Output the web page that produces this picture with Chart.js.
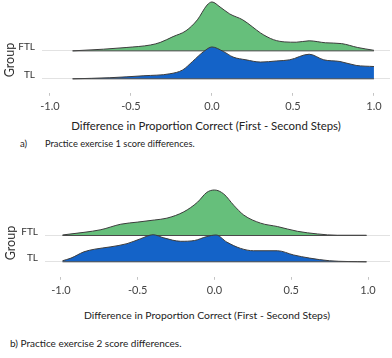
<!DOCTYPE html>
<html>
<head>
<meta charset="utf-8">
<script src="https://cdn.jsdelivr.net/npm/chart.js@4.4.1/dist/chart.umd.min.js"></script>
<style>
  body { margin: 0; background: #fff; width: 392px; height: 358px; position: relative; overflow: hidden; font-family: Lato, sans-serif; color: #222; }
  canvas { position: absolute; left: 0; }
  .ylab { position: absolute; width: 50px; height: 14px; line-height: 14px; text-align: center; font-size: 12.5px; color: #333; transform: rotate(-90deg); }
  .xlab { position: absolute; width: 360px; height: 16px; line-height: 16px; text-align: center; white-space: nowrap; color: #222; }
  .cap { position: absolute; height: 14px; line-height: 14px; white-space: nowrap; }
</style>
</head>
<body>
<canvas id="ridgeA" width="392" height="117" style="top:0"></canvas>
<div class="ylab" style="left:-15px;top:53px">Group</div>
<div class="xlab" id="titleA" style="left:26px;top:118px;font-size:11.4px"></div>
<div class="cap" style="left:20px;top:137px;font-size:9.6px">a)</div>
<div class="cap" style="left:45px;top:137px;font-size:9.3px">Practice exercise 1 score differences.</div>

<canvas id="ridgeB" width="392" height="126" style="top:175px"></canvas>
<div class="ylab" style="left:-14px;top:236px">Group</div>
<div class="xlab" id="titleB" style="left:27px;top:307px;font-size:10.4px"></div>
<div class="cap" style="left:10px;top:336px;font-size:10px">b) Practice exercise 2 score differences.</div>

<script>
const groups = ["FTL", "TL"];
const xTicks = [-1.0, -0.5, 0.0, 0.5, 1.0];
const axisTitle = "Difference in Proportion Correct (First - Second Steps)";

// exercise 1 - density curves
const ex1FtlX = [-0.86, -0.67, -0.53, -0.38, -0.32, -0.24, -0.16, -0.09, -0.03, 0.0, 0.05, 0.11, 0.19, 0.25, 0.30, 0.38, 0.45, 0.52, 0.60, 0.70, 0.80, 0.90, 1.00];
const ex1FtlY = [0, 0.06, 0.12, 0.21, 0.30, 0.51, 0.72, 1.11, 1.64, 1.75, 1.57, 1.32, 1.11, 0.86, 0.64, 0.40, 0.32, 0.31, 0.36, 0.29, 0.26, 0.12, 0.02];
const ex1TlX = [-0.86, -0.63, -0.42, -0.26, -0.18, -0.12, -0.05, 0.0, 0.07, 0.13, 0.21, 0.30, 0.40, 0.48, 0.60, 0.69, 0.79, 0.89, 1.00];
const ex1TlY = [0, 0.04, 0.11, 0.18, 0.32, 0.62, 0.98, 1.14, 0.98, 0.78, 0.68, 0.60, 0.64, 0.68, 0.88, 0.68, 0.62, 0.48, 0.44];

// exercise 2
const ex2FtlX = [-0.99, -0.85, -0.74, -0.61, -0.50, -0.39, -0.31, -0.20, -0.11, -0.05, 0.0, 0.06, 0.125, 0.19, 0.30, 0.41, 0.54, 0.67, 0.80, 0.99];
const ex2FtlY = [0.02, 0.12, 0.22, 0.43, 0.51, 0.59, 0.66, 0.90, 1.27, 1.64, 1.73, 1.58, 1.15, 0.78, 0.47, 0.34, 0.16, 0.06, 0.01, 0.01];
const ex2TlX = [-0.99, -0.935, -0.85, -0.78, -0.675, -0.57, -0.48, -0.40, -0.33, -0.22, -0.13, -0.05, 0.01, 0.08, 0.17, 0.255, 0.41, 0.515, 0.62, 0.75, 0.99];
const ex2TlY = [0.04, 0.14, 0.38, 0.48, 0.57, 0.69, 0.88, 1.03, 0.91, 0.78, 0.81, 0.96, 1.02, 0.75, 0.51, 0.42, 0.42, 0.26, 0.14, 0.04, 0.0];

const FONT = "Lato, sans-serif";
const GREEN = "#66bf7b";
const BLUE = "#1463c8";

document.getElementById("titleA").textContent = axisTitle;
document.getElementById("titleB").textContent = axisTitle;

// each group sits on its own baseline: TL at 0, FTL at 1
function ridge(xs, ys, base, color, order) {
  return {
    data: xs.map((x, i) => ({ x: x, y: base + ys[i] })),
    backgroundColor: color,
    borderColor: "#3c3c3c",
    borderWidth: 1,
    pointRadius: 0,
    cubicInterpolationMode: "monotone",
    fill: { value: base },
    order: order
  };
}

function baseLine(xs, base, order) {
  return {
    data: [{ x: xs[0], y: base }, { x: xs[xs.length - 1], y: base }],
    borderColor: "#4a4a4a",
    borderWidth: 1,
    pointRadius: 0,
    fill: false,
    order: order
  };
}

// kill the auto padding chart.js adds for edge labels
function noPad(s) {
  s.paddingLeft = 0; s.paddingRight = 0;
  s.paddingTop = 0; s.paddingBottom = 0;
}

function makeChart(id, ftlX, ftlY, tlX, tlY, box) {
  const ctx = document.getElementById(id).getContext("2d");
  return new Chart(ctx, {
    type: "line",
    data: {
      datasets: [
        ridge(ftlX, ftlY, 1, GREEN, 3),
        baseLine(ftlX, 1, 2),
        ridge(tlX, tlY, 0, BLUE, 1),
        baseLine(tlX, 0, 0)
      ]
    },
    options: {
      responsive: false,
      animation: false,
      layout: { padding: { left: 0, right: 2, top: box.padTop, bottom: 0 } },
      plugins: { legend: { display: false }, tooltip: { enabled: false } },
      scales: {
        x: {
          type: "linear",
          min: box.xMin,
          max: box.xMax,
          afterBuildTicks: s => { s.ticks = xTicks.map(v => ({ value: v })); },
          afterFit: noPad,
          ticks: {
            callback: v => v.toFixed(1),
            font: { family: FONT, size: 11 },
            color: "#444",
            padding: 4,
            autoSkip: false,
            maxRotation: 0
          },
          grid: { drawOnChartArea: false, drawTicks: true, tickLength: 3, color: "#c4c4c4" },
          border: { display: false }
        },
        y: {
          type: "linear",
          min: box.yMin,
          max: box.yMax,
          afterBuildTicks: s => { s.ticks = [{ value: 0 }, { value: 1 }]; },
          afterFit: s => { s.width = box.axisWidth; noPad(s); },
          ticks: {
            callback: v => groups[1 - v],
            font: { family: FONT, size: 10 },
            color: "#333",
            padding: 7,
            labelOffset: -4
          },
          grid: { drawTicks: false, color: "#e2e2e2" },
          border: { display: false }
        }
      }
    }
  });
}

makeChart("ridgeA", ex1FtlX, ex1FtlY, ex1TlX, ex1TlY,
  { xMin: -1.049, xMax: 1.099, yMin: -0.5, yMax: 2.82, axisWidth: 42, padTop: 0 });

makeChart("ridgeB", ex2FtlX, ex2FtlY, ex2TlX, ex2TlY,
  { xMin: -1.104, xMax: 1.143, yMin: -0.57, yMax: 3.11, axisWidth: 45, padTop: 5 });
</script>
</body>
</html>
